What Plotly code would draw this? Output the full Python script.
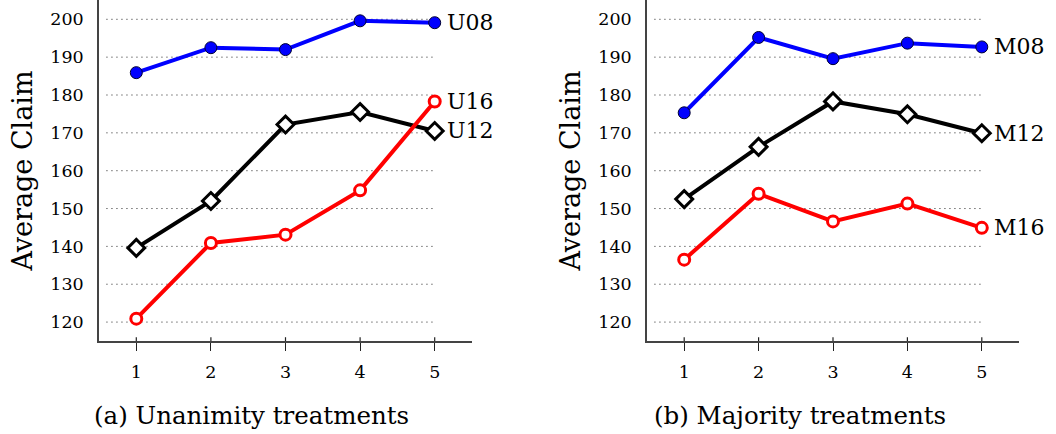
import plotly.graph_objects as go

rounds = [1, 2, 3, 4, 5]
y_ticks = [120, 130, 140, 150, 160, 170, 180, 190, 200]

u08 = [185.9, 192.5, 192.0, 199.6, 199.1]
u12 = [139.6, 152.0, 172.2, 175.5, 170.5]
u16 = [120.9, 140.9, 143.1, 154.8, 178.3]

m08 = [175.3, 195.2, 189.6, 193.7, 192.7]
m12 = [152.5, 166.3, 178.3, 174.9, 169.9]
m16 = [136.5, 153.9, 146.6, 151.3, 144.9]

FONT = "DejaVu Serif"

styles = {
    "08": dict(line=dict(color="#0000ff", width=4),
               marker=dict(symbol="circle", size=12, color="#0000ff",
                           line=dict(color="#000033", width=1))),
    "12": dict(line=dict(color="#000000", width=4),
               marker=dict(symbol="diamond", size=13, color="white",
                           line=dict(color="#000000", width=3))),
    "16": dict(line=dict(color="#ff0000", width=4),
               marker=dict(symbol="circle", size=11, color="white",
                           line=dict(color="#ff0000", width=3))),
}

fig = go.Figure()

panels = [
    ("x", "y", [("U08", u08, "08"), ("U12", u12, "12"), ("U16", u16, "16")]),
    ("x2", "y2", [("M08", m08, "08"), ("M12", m12, "12"), ("M16", m16, "16")]),
]

shapes = []
annotations = []
for xr, yr, series in panels:
    # dotted grid
    for v in y_ticks:
        shapes.append(dict(type="line", xref=xr, yref=yr, x0=0.6, x1=5, y0=v, y1=v,
                           line=dict(color="#222222", width=1, dash="1px,4px"), layer="below"))
    # inner part of x ticks
    for r in rounds:
        shapes.append(dict(type="line", xref=xr, yref=yr, x0=r, x1=r, y0=115, y1=116,
                           line=dict(color="#222222", width=1.2)))
    for name, vals, key in series:
        fig.add_trace(go.Scatter(x=rounds, y=vals, mode="lines+markers", name=name,
                                 xaxis=xr, yaxis=yr, showlegend=False, **styles[key]))
        annotations.append(dict(x=rounds[-1], y=vals[-1], xref=xr, yref=yr, text=name,
                                showarrow=False, xanchor="left", yanchor="middle", xshift=10,
                                font=dict(family=FONT, size=22, color="black")))

annotations.append(dict(x=251 / 1056, y=19 / 434, xref="paper", yref="paper",
                        text="(a) Unanimity treatments", showarrow=False,
                        xanchor="center", yanchor="middle",
                        font=dict(family=FONT, size=24.5, color="black")))
annotations.append(dict(x=800 / 1056, y=19 / 434, xref="paper", yref="paper",
                        text="(b) Majority treatments", showarrow=False,
                        xanchor="center", yanchor="middle",
                        font=dict(family=FONT, size=24.5, color="black")))

xcommon = dict(range=[0.5, 5.5], tickvals=rounds, ticks="outside", ticklen=8,
               tickcolor="#222222", tickwidth=1.2, showgrid=False, zeroline=False,
               showline=True, linecolor="#444444", linewidth=1.5,
               tickfont=dict(family=FONT, size=17.5, color="black"),
               ticklabelstandoff=6, fixedrange=True)
ycommon = dict(range=[115, 205.1], tickvals=y_ticks, ticks="", showgrid=False,
               zeroline=False, showline=True, linecolor="#444444", linewidth=1.5,
               tickfont=dict(family=FONT, size=17.5, color="black"),
               ticklabelstandoff=10,
               title=dict(text="Average Claim", font=dict(family=FONT, size=27, color="black"),
                          standoff=10), fixedrange=True)

fig.update_layout(
    width=1056, height=434,
    margin=dict(l=0, r=0, t=0, b=0),
    paper_bgcolor="white", plot_bgcolor="white",
    xaxis=dict(domain=[99 / 1056, 472 / 1056], anchor="y", **xcommon),
    yaxis=dict(domain=[1 - 341 / 434, 1], anchor="x", **ycommon),
    xaxis2=dict(domain=[647 / 1056, 1019 / 1056], anchor="y2", **xcommon),
    yaxis2=dict(domain=[1 - 341 / 434, 1], anchor="x2", **ycommon),
    shapes=shapes,
    annotations=annotations,
)

fig.write_html("out.html")
